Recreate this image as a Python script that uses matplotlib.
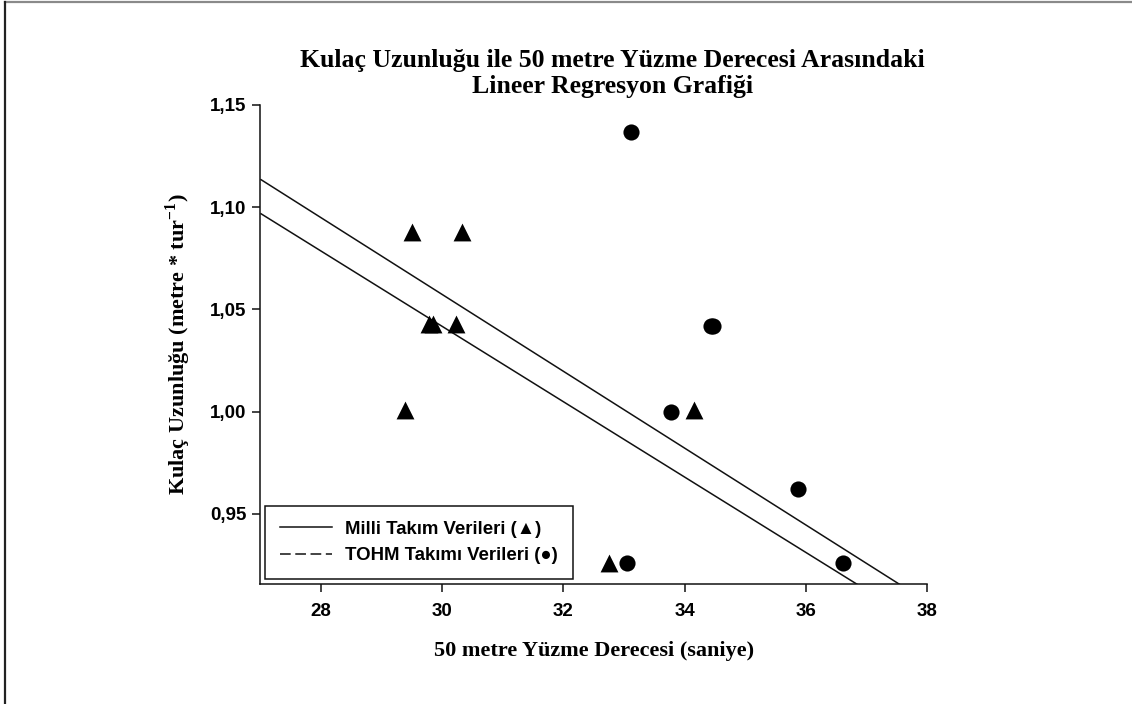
import matplotlib

matplotlib.use("Agg")

import matplotlib.pyplot as plt
from matplotlib.lines import Line2D
import numpy as np

plt.rcParams["mathtext.fontset"] = "custom"
plt.rcParams["mathtext.rm"] = "Liberation Serif:bold"
plt.rcParams["mathtext.bf"] = "Liberation Serif:bold"

# Milli Takim (triangles)
milli_x = [29.50, 30.33, 29.79, 29.84, 30.23, 29.38, 34.16, 32.76]
milli_y = [1.088, 1.088, 1.043, 1.043, 1.043, 1.001, 1.001, 0.926]

# TOHM Takimi (circles)
tohm_x = [33.11, 34.43, 34.46, 33.78, 35.87, 33.05, 36.61]
tohm_y = [1.137, 1.042, 1.042, 1.000, 0.962, 0.926, 0.926]

# regression lines: intercept, slope
fit_upper = (1.6210, -0.01879)
fit_lower = (1.5946, -0.01843)

x_ticks = [28, 30, 32, 34, 36, 38]
y_ticks = [0.95, 1.00, 1.05, 1.10, 1.15]

SERIF = "Liberation Serif"
SANS = "Liberation Sans"

fig = plt.figure(figsize=(11.32, 7.04), dpi=100)
fig.patch.set_facecolor("white")

# image frame
fig.add_artist(Line2D([0.0045, 1.0], [0.9975, 0.9975], transform=fig.transFigure,
                      color="#8a8a8a", lw=1.6))
fig.add_artist(Line2D([0.0045, 0.0045], [0.0, 0.9975], transform=fig.transFigure,
                      color="#222222", lw=1.6))

ax = fig.add_axes([0.2300, 0.1705, 0.5890, 0.6804])

xs = np.array([27.0, 38.0])
for a, b in (fit_upper, fit_lower):
    ax.plot(xs, a + b * xs, color="#111111", lw=1.1, solid_capstyle="butt")

ax.scatter(milli_x, milli_y, marker="^", s=165, color="black", linewidths=0, zorder=3)
ax.scatter(tohm_x, tohm_y, marker="o", s=135, color="black", linewidths=0, zorder=3)

ax.set_xlim(27, 38)
ax.set_ylim(0.9157, 1.15)
ax.set_xticks(x_ticks)
ax.set_yticks(y_ticks)
ax.set_xticklabels([str(t) for t in x_ticks])
ax.set_yticklabels([f"{t:.2f}".replace(".", ",") for t in y_ticks])
for lab in ax.get_xticklabels() + ax.get_yticklabels():
    lab.set_fontfamily(SANS)
    lab.set_fontweight("bold")
    lab.set_fontsize(13.5)

ax.spines["top"].set_visible(False)
ax.spines["right"].set_visible(False)
for side in ("left", "bottom"):
    ax.spines[side].set_linewidth(1.1)
    ax.spines[side].set_color("#111111")
ax.tick_params(direction="out", length=6, width=1.1, color="#111111", pad=4)
ax.tick_params(axis="x", pad=8)

ax.set_xlabel("50 metre Yüzme Derecesi (saniye)", fontfamily=SERIF,
              fontweight="bold", fontsize=16, labelpad=15)
ax.set_ylabel("Kulaç Uzunluğu (metre * tur$^{-1}$)", fontfamily=SERIF,
              fontweight="bold", fontsize=16, labelpad=12)

fig.text(0.541, 0.8956, "Kulaç Uzunluğu ile 50 metre Yüzme Derecesi Arasındaki\n"
         "Lineer Regresyon Grafiği", ha="center", va="center",
         fontfamily=SERIF, fontweight="bold", fontsize=18.5, linespacing=1.12)

handles = [
    Line2D([], [], color="#111111", lw=1.1),
    Line2D([], [], color="#111111", lw=1.1, ls=(0, (7, 3))),
]
leg = ax.legend(handles, ["Milli Takım Verileri (▲)", "TOHM Takımı Verileri (●)"],
                loc="lower left", bbox_to_anchor=(0.0075, 0.0105), borderaxespad=0,
                fancybox=False, framealpha=1, edgecolor="#111111", handlelength=2.8,
                borderpad=0.8, labelspacing=0.5, handletextpad=0.7,
                prop={"family": [SANS, "DejaVu Sans"], "weight": "bold", "size": 13.4})
leg.get_frame().set_linewidth(1.1)

fig.savefig("out.png", dpi=100, facecolor="white")
